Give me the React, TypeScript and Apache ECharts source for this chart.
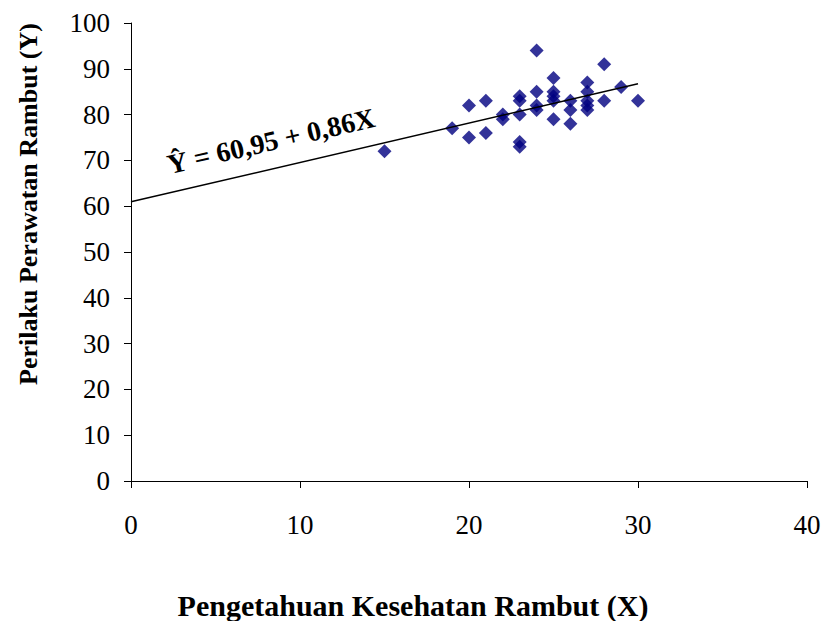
import React, { useEffect, useRef } from "react";
import * as echarts from "echarts";

const xValues = [15, 19, 20, 20, 21, 21, 22, 22, 23, 23, 23, 23, 23, 24, 24, 24, 24, 25, 25, 25, 25, 25, 26, 26, 26, 27, 27, 27, 27, 27, 28, 28, 29, 30];
const yValues = [72, 77, 82, 75, 83, 76, 80, 79, 84, 83, 80, 74, 73, 94, 85, 82, 81, 88, 85, 84, 83, 79, 83, 81, 78, 87, 85, 83, 82, 81, 91, 83, 86, 83];
const intercept = 60.95;
const slope = 0.86;
const lineX = [0, 30];
const xTicks = [0, 10, 20, 30, 40];
const yTicks = [0, 10, 20, 30, 40, 50, 60, 70, 80, 90, 100];
const xTitle = "Pengetahuan Kesehatan Rambut (X)";
const yTitle = "Perilaku Perawatan Rambut (Y)";
const equation = "Ŷ = 60,95 + 0,86X";

export default function App() {
  const ref = useRef<HTMLDivElement>(null);
  useEffect(() => {
    if (!ref.current) return;
    const chart = echarts.init(ref.current, null, { renderer: "svg" });
    const font = "'Liberation Serif', 'Times New Roman', serif";
    chart.setOption({
      animation: false,
      backgroundColor: "#ffffff",
      grid: { left: 131, right: 17, top: 23, bottom: 140, containLabel: false },
      xAxis: {
        type: "value",
        min: xTicks[0],
        max: xTicks[xTicks.length - 1],
        interval: 10,
        axisLine: { lineStyle: { color: "#000", width: 1 } },
        axisTick: { show: true, length: 7, lineStyle: { color: "#000" } },
        axisLabel: { fontFamily: font, fontSize: 27, color: "#000", margin: 30 },
        splitLine: { show: false },
      },
      yAxis: {
        type: "value",
        min: yTicks[0],
        max: yTicks[yTicks.length - 1],
        interval: 10,
        axisLine: { show: true, lineStyle: { color: "#000", width: 1 } },
        axisTick: { show: true, length: 7, lineStyle: { color: "#000" } },
        axisLabel: { fontFamily: font, fontSize: 27, color: "#000", margin: 21 },
        splitLine: { show: false },
      },
      series: [
        {
          type: "line",
          data: lineX.map((x) => [x, intercept + slope * x]),
          showSymbol: false,
          symbol: "none",
          lineStyle: { color: "#000", width: 1.5 },
          z: 3,
        },
        {
          type: "scatter",
          data: xValues.map((x, i) => [x, yValues[i]]),
          symbol: "diamond",
          symbolSize: [14, 14],
          itemStyle: { color: "#000080" },
          z: 2,
        },
      ],
      graphic: [
        {
          type: "text",
          x: 413,
          y: 605,
          style: {
            text: xTitle,
            fontFamily: font,
            fontWeight: "bold",
            fontSize: 30,
            fill: "#000",
            align: "center",
            verticalAlign: "middle",
          },
        },
        {
          type: "text",
          x: 28,
          y: 204,
          rotation: Math.PI / 2,
          style: {
            text: yTitle,
            fontFamily: font,
            fontWeight: "bold",
            fontSize: 26,
            fill: "#000",
            align: "center",
            verticalAlign: "middle",
          },
        },
        {
          type: "text",
          x: 271,
          y: 141,
          rotation: (13 * Math.PI) / 180,
          style: {
            text: equation,
            fontFamily: font,
            fontWeight: "bold",
            fontSize: 28,
            fill: "#000",
            align: "center",
            verticalAlign: "middle",
            textShadowColor: "rgba(110,110,110,0.85)",
            textShadowOffsetX: 2,
            textShadowOffsetY: 2,
            textShadowBlur: 0,
          },
        },
      ],
    });
    return () => chart.dispose();
  }, []);
  return (
    <div
      ref={ref}
      style={{ position: "fixed", left: 0, top: 0, width: 824, height: 621 }}
    />
  );
}
